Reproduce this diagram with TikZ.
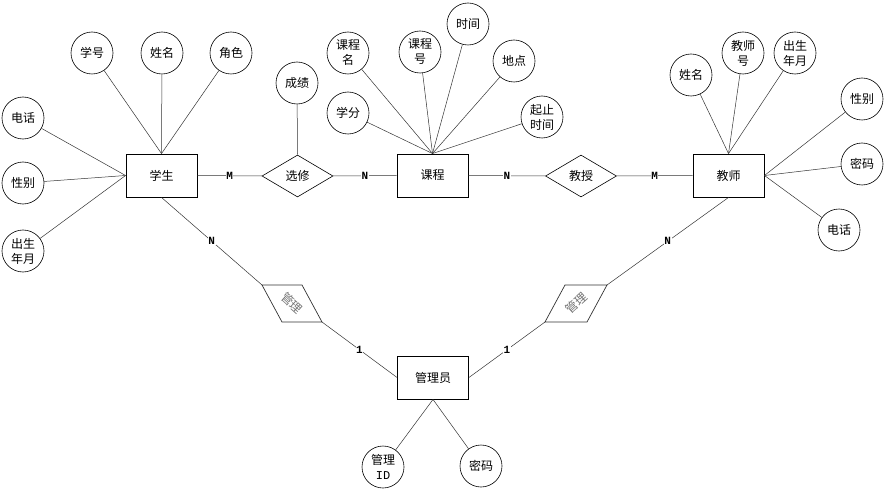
\documentclass[tikz,border=0pt]{standalone}
\usepackage{fontspec}
\setmainfont{Noto Sans CJK SC}
\newfontfamily\labfont{Liberation Mono}
\usetikzlibrary{shapes.geometric}
\definecolor{LineGray}{rgb}{0.2,0.2,0.2}
\definecolor{TextGray}{rgb}{0.45,0.45,0.45}

\begin{document}
\begin{tikzpicture}[x=1pt,y=-1pt,
  ent/.style={draw,line width=0.9pt,minimum width=71pt,minimum height=43pt,inner sep=0pt,font=\fontsize{12}{15}\selectfont},
  attr/.style={draw,circle,line width=0.6pt,minimum size=42pt,inner sep=0pt,align=center,font=\fontsize{12}{15}\selectfont},
  rel/.style={draw,diamond,line width=0.6pt,minimum width=71pt,minimum height=42pt,inner sep=0pt,font=\fontsize{12}{15}\selectfont},
  lab/.style={fill=white,inner sep=0.5pt,font=\labfont\bfseries\fontsize{11}{11}\selectfont},
  conn/.style={draw=LineGray,line width=0.5pt}]
  \useasboundingbox (0,0) rectangle (885,489);

  % entities and relations
  \node (st) [ent] at (161.5,175.5) {学生};
  \node (kc) [ent] at (432.5,175.5) {课程};
  \node (js) [ent] at (728.5,175.5) {教师};
  \node (gly) [ent] at (433,377.5) {管理员};
  \node (xx) [rel] at (297.5,176) {选修};
  \node (jsh) [rel] at (581,176) {教授};

  % attributes of 学生
  \node (stxh) [attr] at (92,53) {学号};
  \node (stxm) [attr] at (162,53) {姓名};
  \node (stjs) [attr] at (231,53) {角色};
  \node (stdh) [attr] at (23,118) {电话};
  \node (stxb) [attr] at (23,183) {性别};
  \node (stcs) [attr] at (23,251) {出生\\年月};
  \node (cj) [attr] at (297,83) {成绩};

  % attributes of 课程
  \node (kcm) [attr] at (348,53) {课程\\名};
  \node (kch) [attr] at (420,52) {课程\\号};
  \node (kcsj) [attr] at (468,24) {时间};
  \node (kcdd) [attr] at (514,61) {地点};
  \node (kcxf) [attr] at (348,113) {学分};
  \node (kcqz) [attr] at (542,117) {起止\\时间};

  % attributes of 教师
  \node (jsxm) [attr] at (691,75) {姓名};
  \node (jsh1) [attr] at (743,53) {教师\\号};
  \node (jscs) [attr] at (795,53) {出生\\年月};
  \node (jsxb) [attr] at (862,99) {性别};
  \node (jsmm) [attr] at (862,164) {密码};
  \node (jsdh) [attr] at (839,230) {电话};

  % attributes of 管理员
  \node (glid) [attr] at (383,467) {管理\\{\labfont ID}};
  \node (glmm) [attr] at (481,466) {密码};

  \foreach \a in {stxh,stxm,stjs}{\draw[conn] (\a) -- (st.north);}
  \foreach \a in {stdh,stxb,stcs}{\draw[conn] (\a) -- (st.west);}
  \draw[conn] (cj) -- (xx.north);
  \foreach \a in {kcm,kch,kcsj,kcdd,kcxf,kcqz}{\draw[conn] (\a) -- (kc.north);}
  \foreach \a in {jsxm,jsh1,jscs}{\draw[conn] (\a) -- (js.north);}
  \foreach \a in {jsxb,jsmm,jsdh}{\draw[conn] (\a) -- (js.east);}
  \foreach \a in {glid,glmm}{\draw[conn] (\a) -- (gly.south);}

  \draw[conn] (st) -- node [lab] {M} (xx);
  \draw[conn] (xx) -- node [lab] {N} (kc);
  \draw[conn] (kc) -- node [lab] {N} (jsh);
  \draw[conn] (jsh) -- node [lab] {M} (js);

  % slanted 管理 boxes
  \coordinate (gla) at (262,285);
  \coordinate (glb) at (302,285);
  \coordinate (glc) at (322,322);
  \coordinate (gld) at (282,322);
  \coordinate (gra) at (565,285);
  \coordinate (grb) at (607,285);
  \coordinate (grc) at (587,322);
  \coordinate (grd) at (545,322);
  \draw[line width=0.7pt,draw=LineGray,fill=white] (gla) -- (glb) -- (glc) -- (gld) -- cycle;
  \draw[line width=0.7pt,draw=LineGray,fill=white] (gra) -- (grb) -- (grc) -- (grd) -- cycle;
  \node (gl1) [rotate=-42,text=TextGray,font=\fontsize{12}{15}\selectfont] at (292,303.5) {管理};
  \node (gl2) [rotate=42,text=TextGray,font=\fontsize{12}{15}\selectfont] at (576,303.5) {管理};

  \draw[conn] (st.south) -- node [lab] {N} (gla);
  \draw[conn] (glc) -- node [lab] {1} (gly.west);
  \draw[conn] (js.south) -- node [lab] {N} (grb);
  \draw[conn] (grd) -- node [lab] {1} (gly.east);
\end{tikzpicture}
\end{document}
